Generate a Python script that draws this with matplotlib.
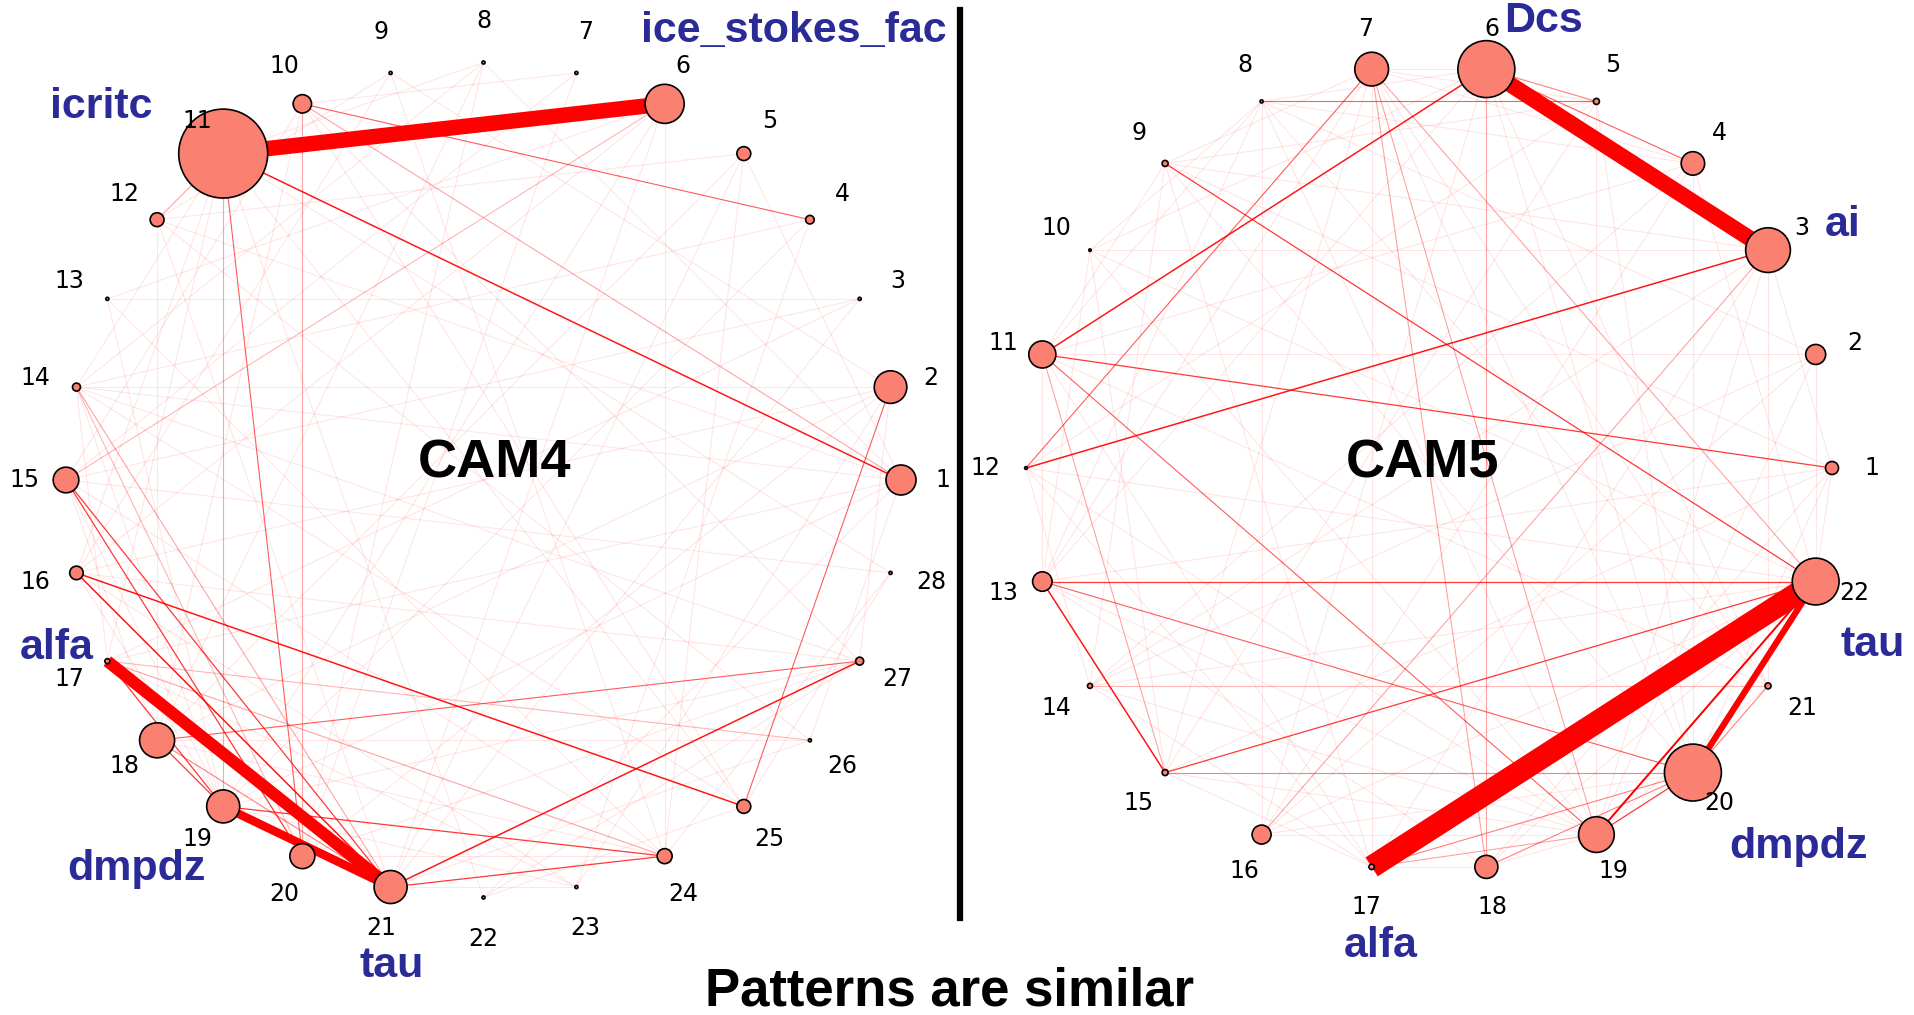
import numpy as np
import matplotlib.pyplot as plt

# ---- CAM4 network (28 parameters) ----
cam4_n = 28
cam4_node_size = [467, 550, 5, 38, 100, 790, 5, 5, 5, 175, 4100, 100, 5, 33,
                  340, 95, 13, 635, 565, 324, 565, 5, 5, 117, 100, 5, 33, 5]
cam4_edges = [(11, 6, 0.62), (17, 21, 0.48), (19, 21, 0.34),
              (11, 1, 0.06), (10, 4, 0.04), (16, 25, 0.06), (16, 21, 0.06),
              (15, 21, 0.05), (15, 20, 0.05), (18, 27, 0.04), (21, 27, 0.06),
              (19, 24, 0.05), (21, 24, 0.05), (2, 25, 0.04), (11, 20, 0.04),
              (10, 20, 0.02), (11, 19, 0.02), (17, 19, 0.05), (18, 19, 0.05),
              (17, 24, 0.02), (18, 21, 0.03), (17, 26, 0.015), (11, 12, 0.02),
              (14, 21, 0.02), (14, 20, 0.015), (10, 1, 0.02), (6, 15, 0.015)]
cam4_faint = [(1, 5), (1, 8), (1, 12), (1, 14), (1, 17), (1, 19), (1, 22), (1, 26),
              (2, 9), (2, 14), (2, 16), (2, 18), (2, 20), (2, 23), (3, 13), (3, 17),
              (3, 21), (4, 14), (4, 19), (4, 23), (5, 12), (5, 18), (5, 24),
              (6, 13), (6, 16), (6, 19), (6, 21), (6, 24), (7, 10), (7, 15), (7, 20),
              (8, 11), (8, 14), (8, 18), (9, 12), (9, 16), (9, 24), (10, 15),
              (10, 18), (10, 25), (10, 27), (11, 14), (11, 16), (11, 17), (11, 22),
              (11, 25), (11, 28), (12, 18), (12, 21), (12, 26), (13, 19), (13, 24),
              (14, 17), (14, 19), (14, 25), (14, 27), (15, 18), (15, 19), (15, 24),
              (15, 28), (16, 19), (16, 23), (16, 27), (17, 23), (18, 24), (18, 26),
              (19, 23), (19, 27), (20, 24), (20, 27), (21, 23), (21, 26), (22, 25),
              (22, 27), (24, 28), (25, 28), (2, 27), (5, 21), (8, 20), (3, 15)]
cam4_names = {11: "icritc", 6: "ice_stokes_fac", 17: "alfa", 19: "dmpdz", 21: "tau"}
cam4_name_xy = {11: (101, 107), 6: (794, 31), 17: (57, 648), 19: (136, 869), 21: (392, 966)}

# ---- CAM5 network (22 parameters) ----
cam5_n = 22
cam5_node_size = [88, 207, 1036, 286, 19, 1680, 590, 5, 19, 3, 380, 4, 197, 13,
                  19, 187, 15, 275, 660, 1680, 19, 1135]
cam5_edges = [(17, 22, 0.9), (6, 3, 0.64), (20, 22, 0.25),
              (19, 22, 0.08), (19, 20, 0.05), (11, 6, 0.06), (12, 7, 0.04),
              (12, 3, 0.06), (11, 1, 0.05), (9, 22, 0.05), (11, 19, 0.04),
              (13, 22, 0.05), (13, 15, 0.06), (13, 20, 0.04), (15, 22, 0.05),
              (15, 20, 0.03), (8, 5, 0.04), (6, 4, 0.04), (6, 5, 0.03),
              (18, 20, 0.03), (17, 20, 0.03), (17, 19, 0.02), (21, 20, 0.03),
              (14, 21, 0.015), (7, 19, 0.02), (7, 18, 0.02), (6, 18, 0.02),
              (3, 16, 0.02), (7, 22, 0.02), (11, 15, 0.02)]
cam5_faint = [(1, 3), (1, 9), (1, 13), (1, 15), (1, 18), (1, 20), (1, 22),
              (2, 11), (2, 14), (2, 16), (2, 19), (2, 22), (2, 8), (3, 10), (3, 14),
              (3, 17), (3, 19), (3, 21), (3, 9), (4, 8), (4, 11), (4, 14), (4, 16),
              (4, 20), (4, 7), (5, 9), (5, 12), (5, 15), (5, 19), (5, 7), (6, 8),
              (6, 10), (6, 13), (6, 16), (6, 20), (6, 21), (6, 7), (7, 9), (7, 13),
              (7, 15), (7, 17), (7, 20), (7, 21), (8, 11), (8, 13), (8, 16),
              (8, 19), (8, 10), (9, 11), (9, 14), (9, 17), (9, 20), (10, 13),
              (10, 15), (10, 19), (10, 22), (11, 17), (11, 21), (11, 13), (12, 14),
              (12, 17), (12, 19), (12, 22), (13, 18), (13, 19), (14, 17), (14, 19),
              (14, 22), (15, 17), (15, 19), (16, 19), (16, 22), (16, 20), (17, 18),
              (18, 22), (18, 19), (19, 21), (4, 22), (5, 20), (8, 21)]
cam5_names = {6: "Dcs", 3: "ai", 22: "tau", 20: "dmpdz", 17: "alfa"}
cam5_name_xy = {6: (1544, 21), 3: (1843, 225), 22: (1873, 645), 20: (1798, 847), 17: (1381, 946)}

faint_w = 0.0015
blue = "#2b2b98"

fig = plt.figure(figsize=(19.15, 10.15), dpi=100)
ax = fig.add_axes([0, 0, 1, 1])
ax.set_xlim(0, 1915)
ax.set_ylim(1015, 0)
ax.axis("off")


def draw_net(n, center, radius, sizes, edges, faint, names, name_xy):
    ang = 2 * np.pi * np.arange(n) / n
    xs = center[0] + radius * np.cos(ang)
    ys = center[1] - radius * np.sin(ang)
    allE = [(u, v, faint_w) for u, v in faint] + list(edges)
    allE.sort(key=lambda e: e[2])
    for u, v, w in allE:
        lw = max(0.8, 18 * w)
        a = min(1.0, 0.08 + 14 * w)
        ax.plot([xs[u - 1], xs[v - 1]], [ys[u - 1], ys[v - 1]], color="red",
                lw=lw, alpha=a, solid_capstyle="butt", zorder=1)
    ax.scatter(xs, ys, s=sizes, c="salmon", edgecolors="black", linewidths=1.2, zorder=3)
    for k in range(n):
        lx = center[0] + 1.1 * radius * np.cos(ang[k])
        ly = center[1] - 1.1 * radius * np.sin(ang[k])
        ax.text(lx, ly, str(k + 1), fontsize=17, ha="center", va="center",
                family="DejaVu Sans", zorder=4)
    for k, txt in names.items():
        ax.text(name_xy[k][0], name_xy[k][1], txt, fontsize=31, fontweight="bold",
                color=blue, family="Liberation Sans", ha="center", va="center", zorder=5)


draw_net(cam4_n, (483.5, 480), 417.5, cam4_node_size, cam4_edges, cam4_faint,
         cam4_names, cam4_name_xy)
draw_net(cam5_n, (1429, 468), 403, cam5_node_size, cam5_edges, cam5_faint,
         cam5_names, cam5_name_xy)

ax.text(495, 463, "CAM4", fontsize=39, fontweight="bold", family="Liberation Sans",
        ha="center", va="center", zorder=5)
ax.text(1423, 463, "CAM5", fontsize=39, fontweight="bold", family="Liberation Sans",
        ha="center", va="center", zorder=5)
ax.plot([960, 960], [10, 918], color="black", lw=4.5, zorder=6)
ax.text(950, 992, "Patterns are similar", fontsize=38, fontweight="bold",
        family="Liberation Sans", ha="center", va="center")

fig.savefig("out.png", dpi=100)
